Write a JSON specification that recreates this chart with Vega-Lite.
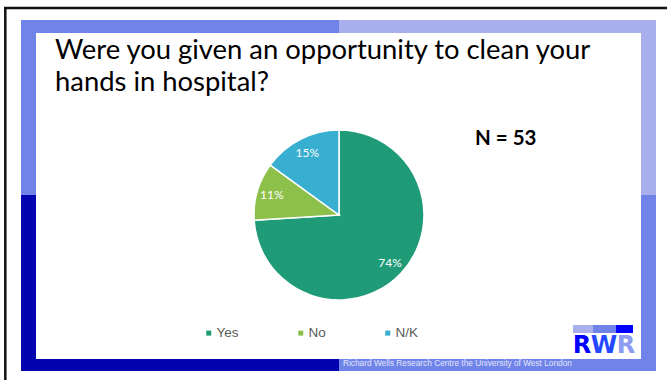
{
  "$schema": "https://vega.github.io/schema/vega-lite/v6.json",
  "width": 667,
  "height": 380,
  "autosize": {"type": "none"},
  "padding": 0,
  "background": "white",
  "config": {"view": {"stroke": null}},
  "datasets": {
    "answers": [
      {"answer": "Yes", "share": 0.74},
      {"answer": "No", "share": 0.11},
      {"answer": "N/K", "share": 0.15}
    ]
  },
  "layer": [
    {
      "data": {"values": [{}]},
      "layer": [
        {"mark": {"type": "rule", "color": "#111111", "strokeWidth": 2.5}, "encoding": {"x": {"value": 5.3}, "x2": {"value": 5.3}, "y": {"value": 7}, "y2": {"value": 380}}},
        {"mark": {"type": "rule", "color": "#111111", "strokeWidth": 2.5}, "encoding": {"x": {"value": 4}, "x2": {"value": 667}, "y": {"value": 8}, "y2": {"value": 8}}},
        {"mark": {"type": "rect", "color": "#6F83E9"}, "encoding": {"x": {"value": 21}, "x2": {"value": 339}, "y": {"value": 20}, "y2": {"value": 195}}},
        {"mark": {"type": "rect", "color": "#A9AFEC"}, "encoding": {"x": {"value": 339}, "x2": {"value": 656}, "y": {"value": 20}, "y2": {"value": 195}}},
        {"mark": {"type": "rect", "color": "#0303B0"}, "encoding": {"x": {"value": 21}, "x2": {"value": 339}, "y": {"value": 195}, "y2": {"value": 371}}},
        {"mark": {"type": "rect", "color": "#6F83E9"}, "encoding": {"x": {"value": 339}, "x2": {"value": 656}, "y": {"value": 195}, "y2": {"value": 371}}},
        {"mark": {"type": "rect", "color": "white"}, "encoding": {"x": {"value": 36}, "x2": {"value": 641}, "y": {"value": 33}, "y2": {"value": 359}}},
        {"mark": {"type": "rect", "color": "#A9AFEC"}, "encoding": {"x": {"value": 573}, "x2": {"value": 593}, "y": {"value": 325}, "y2": {"value": 333}}},
        {"mark": {"type": "rect", "color": "#6F83E9"}, "encoding": {"x": {"value": 593}, "x2": {"value": 616}, "y": {"value": 325}, "y2": {"value": 333}}},
        {"mark": {"type": "rect", "color": "#0000FF"}, "encoding": {"x": {"value": 616}, "x2": {"value": 633}, "y": {"value": 325}, "y2": {"value": 333}}},
        {"mark": {"type": "text", "text": "R", "font": "DejaVu Sans", "fontWeight": "bold", "fontSize": 24, "color": "#0000FF", "align": "center", "baseline": "alphabetic"}, "encoding": {"x": {"value": 582}, "y": {"value": 353}}},
        {"mark": {"type": "text", "text": "W", "font": "DejaVu Sans", "fontWeight": "bold", "fontSize": 24, "color": "#2448FF", "align": "center", "baseline": "alphabetic"}, "encoding": {"x": {"value": 604}, "y": {"value": 353}}},
        {"mark": {"type": "text", "text": "R", "font": "DejaVu Sans", "fontWeight": "bold", "fontSize": 24, "color": "#8C9CF0", "align": "center", "baseline": "alphabetic"}, "encoding": {"x": {"value": 626}, "y": {"value": 353}}},
        {"mark": {"type": "text", "text": "Richard Wells Research Centre the University of West London", "font": "Liberation Sans", "fontSize": 8.3, "color": "#E2E6FB", "align": "left", "baseline": "middle"}, "encoding": {"x": {"value": 343}, "y": {"value": 364}}},
        {"mark": {"type": "text", "text": ["Were you given an opportunity to clean your", "hands in hospital?"], "font": "Lato", "fontSize": 27.4, "lineHeight": 32, "color": "#000000", "align": "left", "baseline": "alphabetic"}, "encoding": {"x": {"value": 55}, "y": {"value": 59}}},
        {"mark": {"type": "text", "text": "N = 53", "font": "Lato", "fontWeight": "bold", "fontSize": 20.5, "color": "#000000", "align": "left", "baseline": "alphabetic"}, "encoding": {"x": {"value": 475}, "y": {"value": 145}}}
      ]
    },
    {
      "data": {"name": "answers"},
      "encoding": {
        "theta": {"field": "share", "type": "quantitative", "stack": true},
        "order": {"field": "answer", "sort": "descending"},
        "color": {
          "field": "answer",
          "type": "nominal",
          "sort": ["Yes", "No", "N/K"],
          "scale": {"domain": ["Yes", "No", "N/K"], "range": ["#1F9B78", "#8DC04A", "#38AED0"]},
          "legend": {
            "title": null,
            "orient": "none",
            "direction": "horizontal",
            "legendX": 202,
            "legendY": 326,
            "padding": 0,
            "symbolType": "square",
            "symbolSize": 25,
            "symbolStrokeWidth": 0,
            "labelFont": "Liberation Sans",
            "labelFontSize": 13.5,
            "labelColor": "#595959",
            "labelOffset": 1,
            "columnPadding": 55
          }
        },
        "x": {"value": 339},
        "y": {"value": 215}
      },
      "layer": [
        {"mark": {"type": "arc", "outerRadius": 85, "stroke": "white", "strokeWidth": 1.5}},
        {
          "mark": {"type": "text", "radius": 70, "font": "Lato", "fontSize": 12},
          "encoding": {
            "text": {"field": "share", "type": "quantitative", "format": ".0%"},
            "color": {"value": "white"}
          }
        }
      ]
    }
  ]
}
